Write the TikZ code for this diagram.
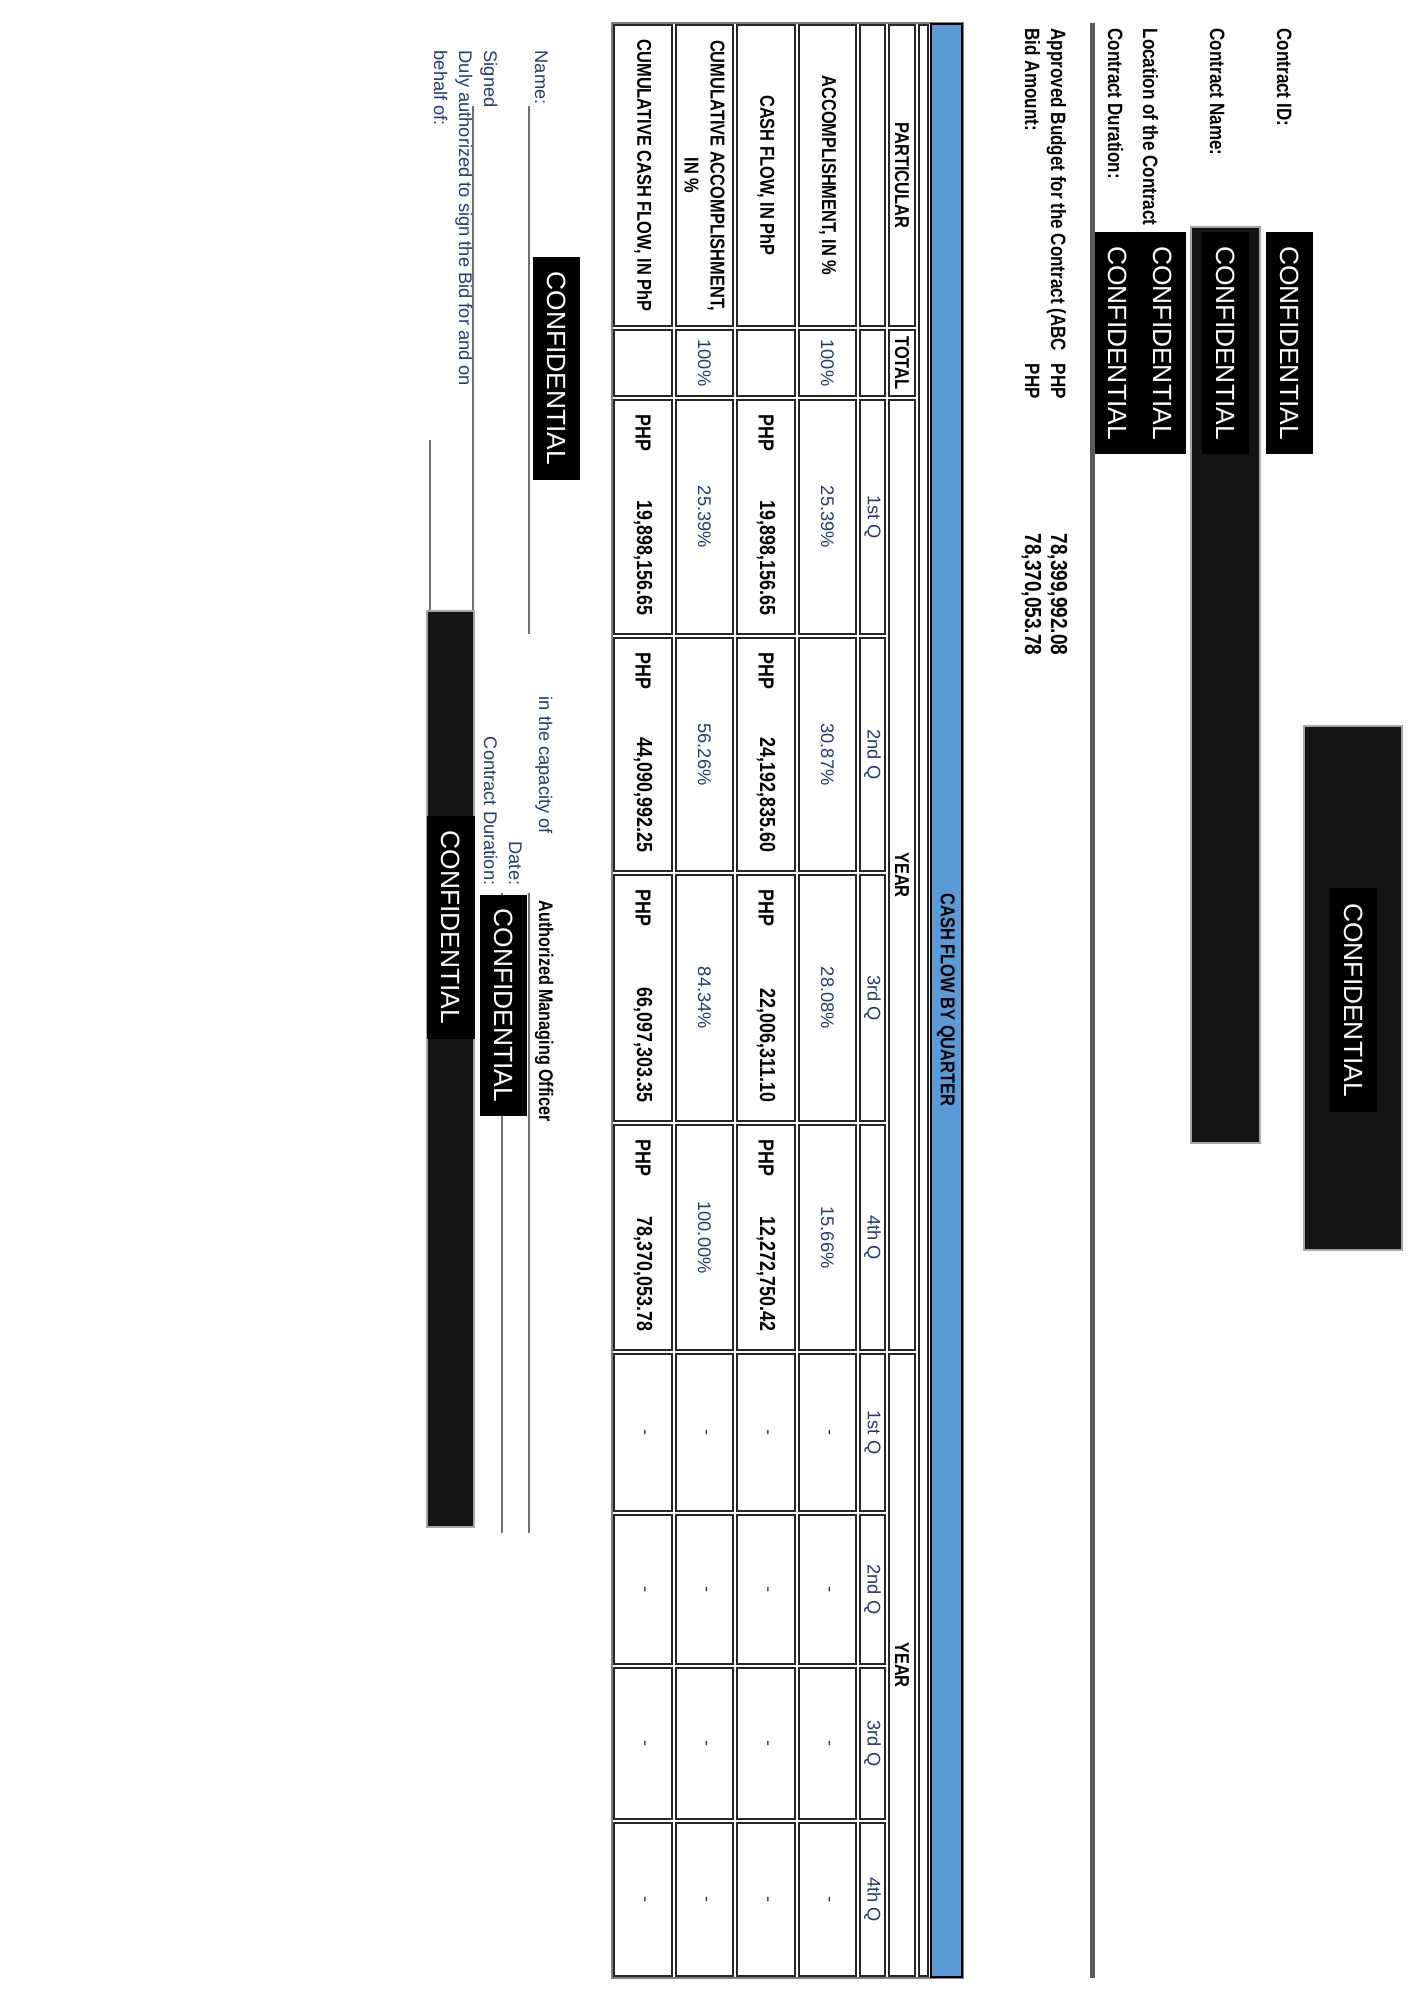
\documentclass[tikz,border=0pt]{standalone}
\usepackage{fontspec}
\setmainfont{Liberation Sans}
\newfontfamily\narrowfont[FakeStretch=0.82]{Liberation Sans}
\definecolor{hdblue}{HTML}{5B9BD5}
\definecolor{valblue}{HTML}{223C72}
\definecolor{redact}{HTML}{141414}

\begin{document}
\begin{tikzpicture}[x=0.01cm,y=-0.01cm,
    cell/.style={draw=black!85,line width=0.45pt},
    redbox/.style={fill=redact,draw=gray!70,line width=0.3pt},
    conf/.style={rotate=-90,inner sep=0pt,text=white,font=\fontsize{7.5}{9}\selectfont},
    hdlbl/.style={rotate=-90,inner sep=0pt,anchor=base west,font=\narrowfont\bfseries\fontsize{5.9}{7.2}\selectfont},
    hdnum/.style={hdlbl,font=\narrowfont\bfseries\fontsize{6.6}{7.8}\selectfont},
    tbl/.style={rotate=-90,inner sep=0pt,align=center,font=\narrowfont\bfseries\fontsize{5.7}{7.4}\selectfont},
    num/.style={rotate=-90,inner sep=0pt,font=\narrowfont\bfseries\fontsize{6.2}{7.5}\selectfont},
    val/.style={rotate=-90,inner sep=0pt,text=valblue,font=\fontsize{5.2}{6.2}\selectfont},
    sig/.style={rotate=-90,inner sep=0pt,anchor=base west,text=valblue,font=\fontsize{5.2}{6.2}\selectfont},
    sigline/.style={draw=gray!90!black,line width=0.55pt}]
\fill[white] (0,0) rectangle (1414,2000);
\useasboundingbox (0,0) rectangle (1414,2000);

% header block
\node[hdlbl] (cid) at (1277,28) {Contract ID:};
\node[hdlbl] (cname) at (1210,28) {Contract Name:};
\node[hdlbl] (cloc) at (1143,28) {Location of the Contract};
\node[hdlbl] (cdur) at (1108,28) {Contract Duration:};
\node[hdlbl] (abc) at (1051,28) {Approved Budget for the Contract (ABC};
\node[hdlbl] (abc-php) at (1051,363) {PHP};
\node[hdnum] (abc-val) at (1051,533) {78,399,992.08};
\node[hdlbl] (bid) at (1025,28) {Bid Amount:};
\node[hdlbl] (bid-php) at (1025,363) {PHP};
\node[hdnum] (bid-val) at (1025,533) {78,370,053.78};
\draw[gray!70!black,line width=1.3pt] (1092.5,23) -- (1092.5,1978);

% redactions
\draw[redbox] (1304,726) rectangle (1402,1250);
\fill[black] (1330,888) rectangle (1377,1112);
\node[conf] (conf-a) at (1353.5,1000) {CONFIDENTIAL};
\draw[redbox] (1191,227) rectangle (1260,1143);
\fill[black] (1202,232) rectangle (1249,454);
\node[conf] (conf-b) at (1225.5,343) {CONFIDENTIAL};
\fill[black] (1266,232) rectangle (1313,454);
\node[conf] (conf-c) at (1289.5,343) {CONFIDENTIAL};
\fill[black] (1095,232) rectangle (1186,454);
\node[conf] (conf-d) at (1163,343) {CONFIDENTIAL};
\node[conf] (conf-e) at (1118,343) {CONFIDENTIAL};

% table grid
\draw[gray,line width=0.8pt] (612,23) rectangle (963,1978);
\foreach \xa/\xb in {612/674,674/735,735/797,797/858,858/887}
  \foreach \ya/\yb in {23/328,328/398,398/636,636/873,873/1123,1123/1352,1352/1513,1513/1666,1666/1821,1821/1978}
    \draw[cell] (\xa+2,\ya+2) rectangle (\xb-2,\yb-2);
\foreach \ya/\yb in {23/328,328/398,398/1352,1352/1978}
  \draw[cell] (889,\ya+2) rectangle (915,\yb-2);
\draw[cell] (919,25) rectangle (928,1976);
\draw[fill=hdblue,draw=black,line width=0.8pt] (931,24) rectangle (962,1977);

% table header
\node[tbl] (hd) at (946,1000) {CASH FLOW BY QUARTER};
\node[tbl] (part) at (902,175.5) {PARTICULAR};
\node[tbl] (tot) at (902,363) {TOTAL};
\node[tbl] (yr1) at (902,875) {YEAR};
\node[tbl] (yr2) at (902,1665) {YEAR};
\foreach \ya/\yb/\q [count=\i] in {398/636/1st,636/873/2nd,873/1123/3rd,1123/1352/4th,1352/1513/1st,1513/1666/2nd,1666/1821/3rd,1821/1978/4th}
  \node[val] (q-\i) at (872.5,{(\ya+\yb)/2}) {\q\ Q};

% row labels
\node[tbl] (r-acc) at (827.5,175.5) {ACCOMPLISHMENT, IN \%};
\node[tbl] (r-cf) at (766,175.5) {CASH FLOW, IN PhP};
\node[tbl] (r-cacc) at (704.5,175.5) {CUMULATIVE ACCOMPLISHMENT,\\IN \%};
\node[tbl] (r-ccf) at (643,175.5) {CUMULATIVE CASH FLOW, IN PhP};
\node[val] (t-acc) at (827.5,363) {100\%};
\node[val] (t-cacc) at (704.5,363) {100\%};

% values
\foreach \ya/\yb/\pa/\pb [count=\i] in {398/636/25.39/25.39,636/873/30.87/56.26,873/1123/28.08/84.34,1123/1352/15.66/100.00}
{\node[val] (p-acc-\i) at (827.5,{(\ya+\yb)/2}) {\pa\%};
 \node[val] (p-cacc-\i) at (704.5,{(\ya+\yb)/2}) {\pb\%};}
\foreach \ya/\yb/\ca/\cb [count=\i] in {398/636/{19,898,156.65}/{19,898,156.65},636/873/{24,192,835.60}/{44,090,992.25},873/1123/{22,006,311.10}/{66,097,303.35},1123/1352/{12,272,750.42}/{78,370,053.78}}
{\node[num,anchor=west] (php-cf-\i) at (766,\ya+16) {PHP};
 \node[num,anchor=east] (v-cf-\i) at (766,\yb-20) {\ca};
 \node[num,anchor=west] (php-ccf-\i) at (643,\ya+16) {PHP};
 \node[num,anchor=east] (v-ccf-\i) at (643,\yb-20) {\cb};}
\foreach \ya/\yb [count=\i] in {1352/1513,1513/1666,1666/1821,1821/1978}
  \foreach \xr/\rn in {827.5/acc,766/cf,704.5/cacc,643/ccf}
    \node[val] (d-\rn-\i) at (\xr,{(\ya+\yb)/2}) {-};

% signature block
\draw[sigline] (529,106) -- (529,634);
\draw[sigline] (473,106) -- (473,634);
\draw[sigline] (430,440) -- (430,611);
\draw[sigline] (529,893) -- (529,1533);
\draw[sigline] (502,893) -- (502,1533);
\draw[redbox] (427,611) rectangle (474,1527);
\fill[black] (427,816) rectangle (475,1039);
\node[conf] (conf-g) at (451,927.5) {CONFIDENTIAL};
\fill[black] (533,257) rectangle (580,480);
\node[conf] (conf-name) at (556.5,368.5) {CONFIDENTIAL};
\fill[black] (480,895) rectangle (527,1116);
\node[conf] (conf-dur) at (503.5,1005.5) {CONFIDENTIAL};
\node[sig] (name) at (535,50) {Name:};
\node[sig] (signed) at (484,50) {Signed};
\node[sig] (duly) at (459,50) {Duly authorized to sign the Bid for and on};
\node[sig] (behalf) at (434,50) {behalf of:};
\node[sig] (capacity) at (539,696) {in the capacity of};
\node[sig,anchor=base east] (date) at (509,886) {Date:};
\node[sig,anchor=base east] (dur) at (484,886) {Contract Duration:};
\node[hdlbl,font=\narrowfont\bfseries\fontsize{5.6}{6.8}\selectfont] (officer) at (539,900) {Authorized Managing Officer};
\end{tikzpicture}
\end{document}
